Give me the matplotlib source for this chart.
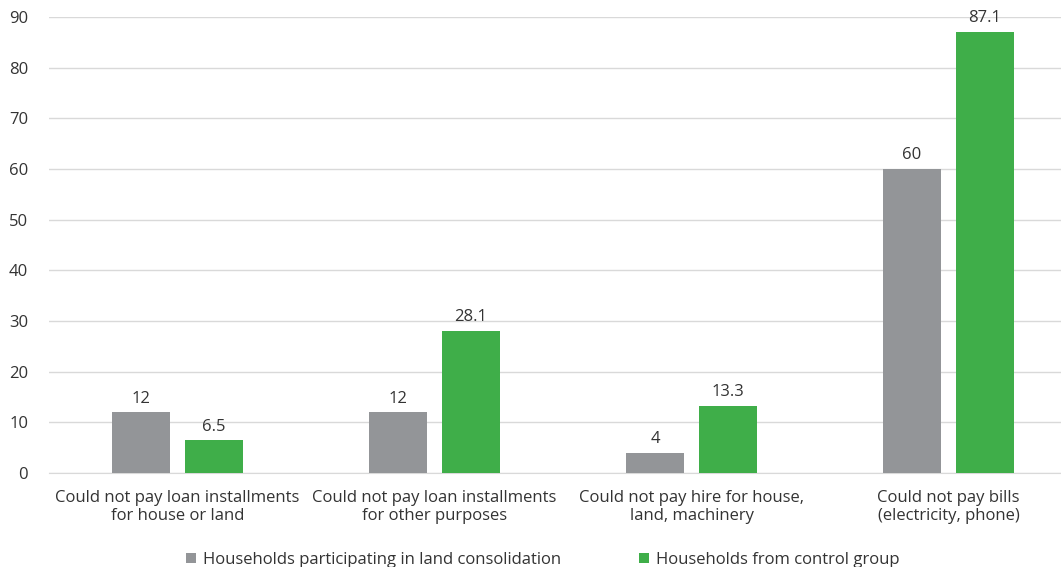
import numpy as np
import matplotlib
matplotlib.use("Agg")
import matplotlib.pyplot as plt

plt.rcParams['font.family'] = ['Open Sans', 'DejaVu Sans']

categories = [
    "Could not pay loan installments\nfor house or land",
    "Could not pay loan installments\nfor other purposes",
    "Could not pay hire for house,\nland, machinery",
    "Could not pay bills\n(electricity, phone)",
]
participating = [12, 12, 4, 60]
control = [6.5, 28.1, 13.3, 87.1]
series_names = ["Households participating in land consolidation",
                "Households from control group"]
yticks = list(range(0, 100, 10))

gray = "#939598"
green = "#3fae49"
text_col = "#333333"

fig = plt.figure(figsize=(10.61, 5.67), dpi=100)
ax = fig.add_axes([49 / 1061, 1 - 473 / 567, 1028 / 1061, 456 / 567])

x = np.arange(len(categories))
w = 0.226
off = 0.142
b1 = ax.bar(x - off, participating, w, color=gray, label=series_names[0], zorder=3)
b2 = ax.bar(x + off, control, w, color=green, label=series_names[1], zorder=3)

for bars, vals in ((b1, participating), (b2, control)):
    for rect, v in zip(bars, vals):
        ax.annotate(f"{v:g}", (rect.get_x() + rect.get_width() / 2, v),
                    xytext=(0, 4), textcoords="offset points",
                    ha="center", va="bottom", fontsize=12, color=text_col)

ax.set_xlim(-0.5, len(categories) - 0.5)
ax.set_ylim(0, 90)
ax.set_yticks(yticks)
ax.set_xticks(x)
ax.set_xticklabels(categories, fontsize=12, color=text_col, linespacing=1.2)
ax.tick_params(axis="y", length=0, labelsize=12, labelcolor=text_col, pad=15)
ax.tick_params(axis="x", length=0, pad=12)
ax.grid(axis="y", color="#d9d9d9", linewidth=1, zorder=0)
for s in ("top", "right", "left"):
    ax.spines[s].set_visible(False)
ax.spines["bottom"].set_color("#d9d9d9")

fig.legend(handles=[b1, b2], loc="center", bbox_to_anchor=(543 / 1061, 1 - 560 / 567),
           ncol=2, frameon=False, fontsize=12, handlelength=0.6, handleheight=0.6,
           handletextpad=0.4, columnspacing=4.7, labelcolor=text_col)

fig.savefig("out.png", dpi=100)
